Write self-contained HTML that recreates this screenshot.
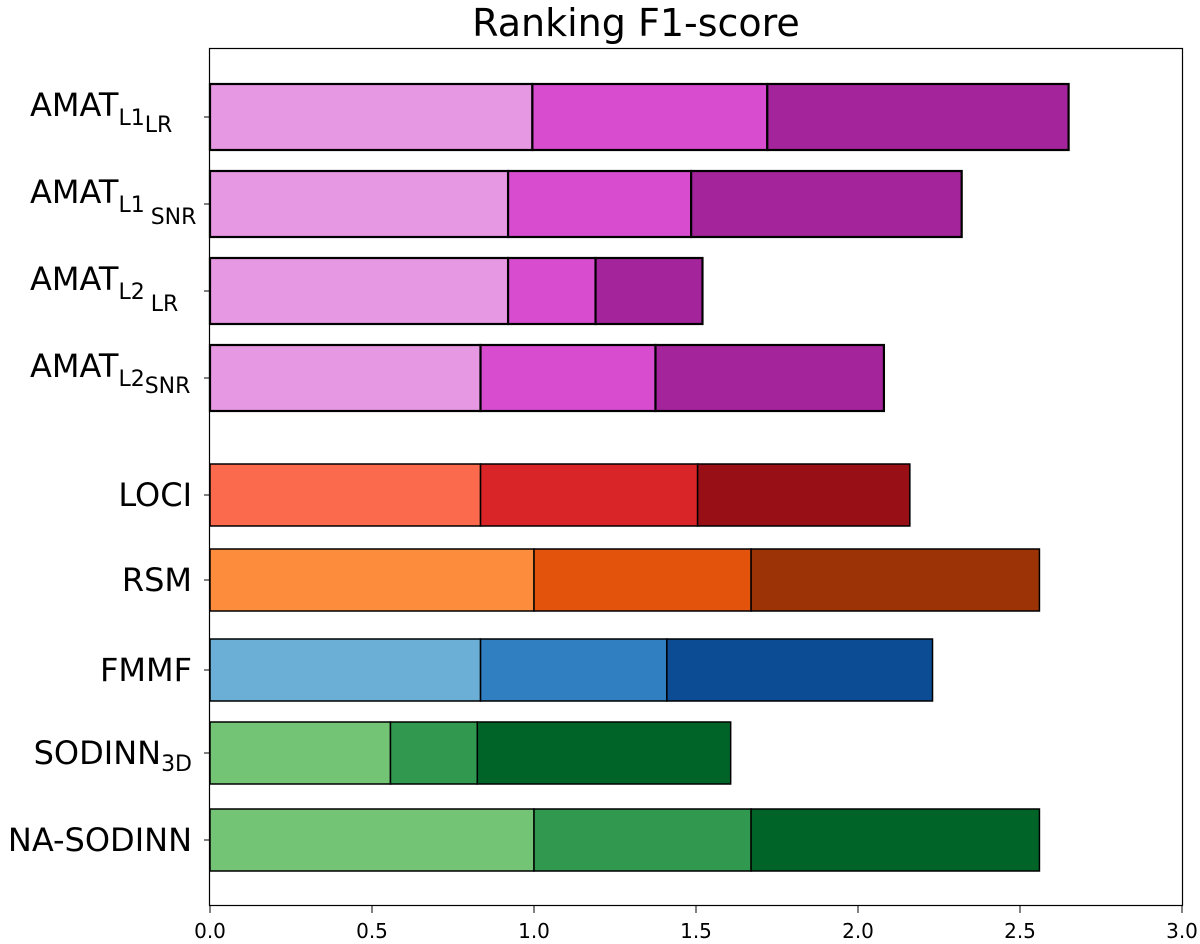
<!DOCTYPE html>
<html><head><meta charset="utf-8"><style>
body{margin:0;background:#fff}
svg{display:block;font-family:"DejaVu Sans","Liberation Sans",sans-serif}
</style></head><body>
<svg id="chart" width="1200" height="944">
<text x="636" y="36" font-size="38" text-anchor="middle">Ranking F1-score</text>
<rect x="209.5" y="48.5" width="973" height="857" fill="none" stroke="#000" stroke-width="1.2"/>
<g id="bars"></g><g id="xt"></g><g id="yl"></g>
</svg>
<script>
const methods=["AMAT_L1LR","AMAT_L1SNR","AMAT_L2LR","AMAT_L2SNR","LOCI","RSM","FMMF","SODINN3D","NA-SODINN"];
const seg1=[0.995,0.92,0.92,0.835,0.835,1.0,0.835,0.557,1.0];
const seg2=[0.725,0.565,0.27,0.54,0.67,0.67,0.575,0.268,0.67];
const seg3=[0.93,0.835,0.33,0.705,0.655,0.89,0.82,0.782,0.89];
const xTicks=[0,0.5,1.0,1.5,2.0,2.5,3.0];
const xTickLabels=["0.0","0.5","1.0","1.5","2.0","2.5","3.0"];
const palettes=[["#e698e2","#d84ccf","#a4249c"],["#e698e2","#d84ccf","#a4249c"],["#e698e2","#d84ccf","#a4249c"],["#e698e2","#d84ccf","#a4249c"],
["#fc6a4e","#d92428","#980f16"],["#fd8d3c","#e3530c","#9c3306"],["#6baed6","#2f7fc1","#0b4c95"],["#74c476","#31994f","#006428"],["#74c476","#31994f","#006428"]];
const centers=[117,204,291,378,495,580,670,753,840];
const X=v=>210+v*324;
const NS="http://www.w3.org/2000/svg";
const mk=(t,a,p)=>{const e=document.createElementNS(NS,t);for(const k in a)e.setAttribute(k,a[k]);p.appendChild(e);return e;};
const bars=document.getElementById('bars');
methods.forEach((m,i)=>{
  const amat=i<4, h=amat?66:62, y=centers[i]-h/2;
  const vals=[seg1[i],seg2[i],seg3[i]];let s=0;
  vals.forEach((v,j)=>{
    const r=mk('rect',{x:X(s),y:y,width:X(s+v)-X(s),height:h,fill:palettes[i][j],stroke:'#000','stroke-width':amat?2.2:1.5},bars);
    
    
    s+=v;
  });
  const t=mk('line',{x1:204,x2:209,y1:centers[i],y2:centers[i],stroke:'#000'},bars);
  
  
});
const xt=document.getElementById('xt');
xTicks.forEach((v,i)=>{
  const l=mk('line',{x1:X(v),x2:X(v),y1:906,y2:913,stroke:'#000'},xt);
  
  
  const t=mk('text',{x:X(v),y:938,'font-size':20,'text-anchor':'middle'},xt);
  t.textContent=xTickLabels[i];
  
  
});
const yl=document.getElementById('yl');
const labelHTML=[
 'AMAT<tspan font-size="22" dy="9">L1</tspan><tspan font-size="22" dy="7">LR</tspan>',
 'AMAT<tspan font-size="22" dy="9">L1</tspan><tspan font-size="22" dy="12" dx="6">SNR</tspan>',
 'AMAT<tspan font-size="22" dy="9">L2</tspan><tspan font-size="22" dy="12" dx="6">LR</tspan>',
 'AMAT<tspan font-size="22" dy="9">L2</tspan><tspan font-size="22" dy="7">SNR</tspan>',
 'LOCI','RSM','FMMF','SODINN<tspan font-size="22" dy="7">3D</tspan>','NA-SODINN'];
const ends=[192,192,192,192,192,192,192,192,192];
methods.forEach((m,i)=>{
  const t=mk('text',{x:i<4?30:ends[i],y:centers[i]+(i<4?-1:11),'font-size':32,'text-anchor':i<4?'start':'end'},yl);
  t.innerHTML=labelHTML[i];
  
  
});
</script>
</body></html>
